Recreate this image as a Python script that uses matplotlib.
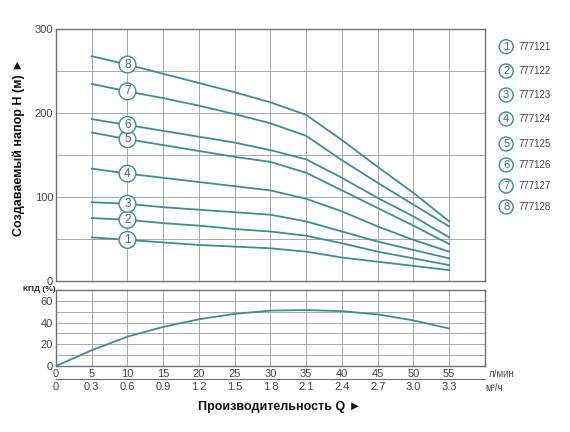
"""Pump performance chart: head curves for eight models plus efficiency below."""

import matplotlib

matplotlib.use("Agg")

import matplotlib.pyplot as plt
import numpy as np

LINE_COLOUR = "#3a8e96"
NUMBER_COLOUR = "#3d6e77"
GRID_COLOUR = "#a8a8a8"
SPINE_COLOUR = "#707070"
TEXT_COLOUR = "#454545"
FONT = ["Liberation Sans", "DejaVu Sans"]

flow_lpm = [5, 10, 15, 20, 25, 30, 35, 40, 45, 50, 55]
models = ["777121", "777122", "777123", "777124", "777125", "777126", "777127", "777128"]
head_1 = [52, 49, 46, 43, 41, 39, 35, 28, 23, 18, 13]
head_2 = [75, 73, 69, 66, 62, 59, 54, 45, 35, 27, 19]
head_3 = [94, 92, 88, 85, 82, 79, 71, 59, 47, 37, 27]
head_4 = [134, 128, 123, 118, 113, 108, 98, 83, 65, 49, 35]
head_5 = [177, 169, 162, 155, 148, 142, 129, 108, 87, 66, 44]
head_6 = [193, 186, 179, 172, 165, 156, 145, 123, 99, 77, 52]
head_7 = [235, 226, 218, 209, 199, 188, 173, 144, 117, 91, 65]
head_8 = [268, 258, 247, 236, 225, 213, 198, 168, 136, 105, 71]
heads = [head_1, head_2, head_3, head_4, head_5, head_6, head_7, head_8]

eff_flow = [0, 5, 10, 15, 20, 25, 30, 35, 40, 45, 50, 55]
efficiency = [0, 14.5, 27, 36, 43, 48, 51, 51.5, 50.5, 47.5, 42, 34.5]

lpm_ticks = [0, 5, 10, 15, 20, 25, 30, 35, 40, 45, 50, 55]
m3h_labels = ["0", "0.3", "0.6", "0.9", "1.2", "1.5", "1.8", "2.1", "2.4", "2.7", "3.0", "3.3"]

plt.rcParams["font.family"] = FONT


def style_axes(axes):
    for spine in axes.spines.values():
        spine.set_color(SPINE_COLOUR)
        spine.set_linewidth(1.0)
    axes.grid(True, which="both", color=GRID_COLOUR, linewidth=0.7)
    axes.set_axisbelow(True)
    axes.tick_params(which="both", length=0, colors=TEXT_COLOUR, labelsize=8)
    axes.set_xlim(0, 60)
    axes.set_xticks(lpm_ticks)


fig = plt.figure(figsize=(5.7, 4.32), dpi=100)
head_ax = fig.add_axes([0.0982, 0.3495, 0.7526, 0.5826])
eff_ax = fig.add_axes([0.0982, 0.1528, 0.7526, 0.176])

# head curves
style_axes(head_ax)
head_ax.set_ylim(0, 300)
head_ax.set_yticks([0, 100, 200, 300])
head_ax.set_yticks([50, 150, 250], minor=True)
head_ax.tick_params(axis="x", labelbottom=False)
head_ax.tick_params(axis="y", pad=2)
for index, values in enumerate(heads):
    head_ax.plot(flow_lpm, values, color=LINE_COLOUR, linewidth=1.3, zorder=2)
    head_ax.text(
        flow_lpm[1], values[1], str(index + 1),
        ha="center", va="center", fontsize=8.5, color=NUMBER_COLOUR, zorder=3,
        bbox=dict(boxstyle="circle,pad=0.2", facecolor="white",
                  edgecolor=LINE_COLOUR, linewidth=1.0),
    )

# efficiency curve
style_axes(eff_ax)
eff_ax.set_ylim(0, 70)
eff_ax.set_yticks([0, 20, 40, 60])
eff_ax.set_yticks([10, 30, 50, 70], minor=True)
eff_ax.tick_params(axis="x", pad=2)
eff_ax.tick_params(axis="y", pad=2)
eff_ax.plot(eff_flow, efficiency, color=LINE_COLOUR, linewidth=1.3, zorder=2)

second = eff_ax.secondary_xaxis(-0.17, functions=(lambda q: q * 0.06, lambda m: m / 0.06))
second.set_xticks([float(label) for label in m3h_labels])
second.set_xticklabels(m3h_labels)
second.spines["bottom"].set_color(SPINE_COLOUR)
second.tick_params(length=0, colors=TEXT_COLOUR, labelsize=8, pad=2)

# units and axis titles
fig.text(0.858, 0.134, "л/мин", fontsize=7, color=TEXT_COLOUR, ha="left", va="center")
fig.text(0.852, 0.103, "м³/ч", fontsize=7, color=TEXT_COLOUR, ha="left", va="center")
fig.text(0.097, 0.331, "КПД (%)", fontsize=6, fontweight="bold", color="#222222",
         ha="right", va="center")
fig.text(0.033, 0.66, "Создаваемый напор H (м) ►", rotation=90, fontsize=9,
         fontweight="bold", color="#111111", ha="center", va="center")
fig.text(0.49, 0.058, "Производительность Q ►", fontsize=9, fontweight="bold",
         color="#111111", ha="center", va="center")

# legend of models
legend_rows = [46.7, 71, 95, 119, 144, 165, 186, 207]
for index, (model, row) in enumerate(zip(models, legend_rows)):
    y = 1 - row / 432
    fig.text(0.888, y, str(index + 1), fontsize=8, color=NUMBER_COLOUR, ha="center",
             va="center", bbox=dict(boxstyle="circle,pad=0.18", facecolor="white",
                                    edgecolor=LINE_COLOUR, linewidth=1.0))
    fig.text(0.91, y, model, fontsize=7, color=TEXT_COLOUR, ha="left", va="center")

fig.savefig("out.png", dpi=100)
